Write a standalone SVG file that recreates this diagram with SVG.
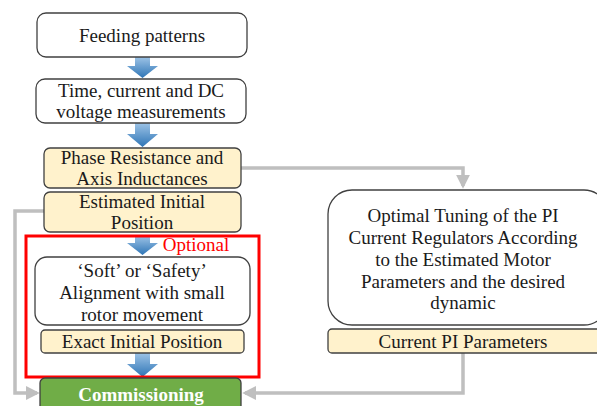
<svg xmlns="http://www.w3.org/2000/svg" width="597" height="406" viewBox="0 0 597 406">
<style>
text{font-family:"Liberation Serif","DejaVu Serif",serif;font-size:19px;fill:#1a1a1a;text-anchor:middle}
.w{fill:#fff;stroke:#404040;stroke-width:1.3}
.b{fill:#fff2cc;stroke:#404040;stroke-width:1.3}
.g{fill:none;stroke:#bfbfbf;stroke-width:3.5}
.ar{fill:url(#bg)}
</style>
<defs>
<linearGradient id="bg" x1="0" y1="0" x2="0" y2="1">
<stop offset="0" stop-color="#9dc3e6"/>
<stop offset="1" stop-color="#2e75b6"/>
</linearGradient>
<marker id="ga" markerWidth="4" markerHeight="4" refX="3.2" refY="2" orient="auto" markerUnits="strokeWidth">
<path d="M0,0 L4,2 L0,4 Z" fill="#bfbfbf"/>
</marker>
</defs>
<g id="connectors">
<path class="g" d="M241,168 H463 V186" marker-end="url(#ga)"/>
<path class="g" d="M463,353 V393 H245" marker-end="url(#ga)"/>
<path class="g" d="M44,211 H15 V393 H37" marker-end="url(#ga)"/>
<path class="ar" d="M135,57 H150 V66 H158 L142.5,78 L127,66 H135 Z"/>
<path class="ar" d="M135,123 H150 V134 H158 L142.5,147 L127,134 H135 Z"/>
<path class="ar" d="M135,236 H150 V243 H158 L142.5,255 L127,243 H135 Z"/>
<path class="ar" d="M135,353 H150 V364 H158 L142.5,377 L127,364 H135 Z"/>
</g>
<g id="optional">
<rect x="26" y="236" width="233" height="141" fill="none" stroke="#ff0000" stroke-width="3"/>
<text x="196" y="251" style="fill:#ff0000">Optional</text>
</g>
<g id="feeding">
<rect class="w" x="37" y="13" width="210" height="44" rx="9"/>
<text x="142" y="42">Feeding patterns</text>
</g>
<g id="measurements">
<rect class="w" x="36" y="79" width="210" height="44" rx="9"/>
<text x="141" y="97">Time, current and DC</text>
<text x="141" y="118">voltage measurements</text>
</g>
<g id="phase">
<rect class="b" x="44" y="148" width="197" height="40" rx="6"/>
<text x="142" y="164">Phase Resistance and</text>
<text x="142" y="185">Axis Inductances</text>
</g>
<g id="estimated">
<rect class="b" x="44" y="192" width="197" height="40" rx="6"/>
<text x="142" y="208">Estimated Initial</text>
<text x="142" y="229">Position</text>
</g>
<g id="soft">
<rect class="w" x="35" y="257" width="215" height="68" rx="12"/>
<text x="142" y="277">‘Soft’ or ‘Safety’</text>
<text x="142" y="299">Alignment with small</text>
<text x="142" y="321">rotor movement</text>
</g>
<g id="exact">
<rect class="b" x="41" y="330" width="203" height="23" rx="4"/>
<text x="142" y="348">Exact Initial Position</text>
</g>
<g id="commissioning">
<rect x="40" y="378" width="201" height="40" rx="5" fill="#70ad47" stroke="#404040" stroke-width="1.3"/>
<text x="141" y="401" style="fill:#fff;font-weight:bold">Commissioning</text>
</g>
<g id="tuning">
<rect class="w" x="328" y="190" width="280" height="135" rx="24"/>
<text x="463" y="222">Optimal Tuning of the PI</text>
<text x="463" y="244">Current Regulators According</text>
<text x="463" y="266">to the Estimated Motor</text>
<text x="463" y="288">Parameters and the desired</text>
<text x="463" y="309">dynamic</text>
</g>
<g id="pi">
<rect class="b" x="328" y="329" width="280" height="24" rx="4"/>
<text x="463" y="348">Current PI Parameters</text>
</g>
</svg>
